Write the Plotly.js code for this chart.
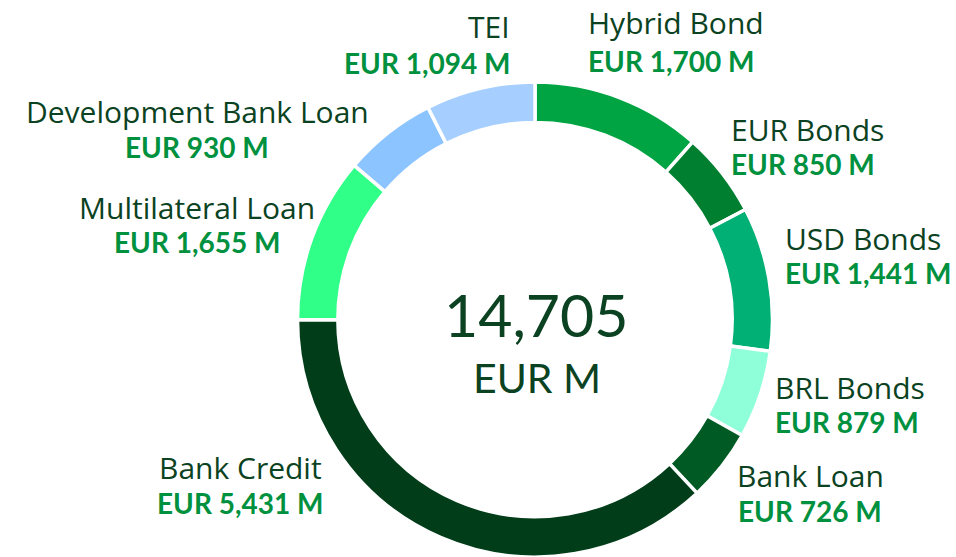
<!DOCTYPE html>
<html>
<head>
<meta charset="utf-8">
<script src="https://cdn.plot.ly/plotly-3.0.1.min.js"></script>
<style>html,body{margin:0;padding:0;background:#fff;}#chart{width:956px;height:557px;}</style>
</head>
<body>
<div id="chart"></div>
<script>
// ---- data ----
const categories = ["Hybrid Bond", "EUR Bonds", "USD Bonds", "BRL Bonds", "Bank Loan", "Bank Credit", "Multilateral Loan", "Development Bank Loan", "TEI"];
const values = [1700, 850, 1441, 879, 726, 5431, 1655, 930, 1094];
const valueLabels = ["EUR 1,700 M", "EUR 850 M", "EUR 1,441 M", "EUR 879 M", "EUR 726 M", "EUR 5,431 M", "EUR 1,655 M", "EUR 930 M", "EUR 1,094 M"];
const centerValue = "14,705";
const centerUnit = "EUR M";

// ---- styles / layout ----
const colors = ["#00a443", "#007f30", "#00b074", "#8effd8", "#005a24", "#023d1a", "#30ff88", "#8cc4ff", "#a6cfff"];
// label block positions in pixels: [x, yName, yValue, anchor]
const labelPos = [
  [586, 23, 61, "left"],
  [729, 129, 164, "left"],
  [783, 238, 273, "left"],
  [773, 387, 422, "left"],
  [810, 475, 511, "center"],
  [240, 467, 503, "center"],
  [197, 207, 242, "center"],
  [197, 111, 147, "center"],
  [512, 26, 63, "right"]
];
const W = 956, H = 557;
const nameColor = "#0b4222", valueColor = "#00913f";
const nameFont = "'Open Sans', Lato, sans-serif";
const valueFont = "Lato, 'Open Sans', sans-serif";

const annotations = [];
categories.forEach((c, i) => {
  const p = labelPos[i];
  annotations.push({xref: "paper", yref: "paper", x: p[0] / W, y: 1 - p[1] / H, xanchor: p[3], yanchor: "middle",
    text: c, showarrow: false, font: {family: nameFont, size: 30, color: nameColor}});
  annotations.push({xref: "paper", yref: "paper", x: p[0] / W, y: 1 - p[2] / H, xanchor: p[3], yanchor: "middle",
    text: "<b>" + valueLabels[i] + "</b>", showarrow: false, font: {family: valueFont, size: 28, color: valueColor}});
});
annotations.push({xref: "paper", yref: "paper", x: 536 / W, y: 1 - 314 / H, xanchor: "center", yanchor: "middle",
  text: centerValue, showarrow: false, font: {family: valueFont, size: 59, color: nameColor}});
annotations.push({xref: "paper", yref: "paper", x: 537 / W, y: 1 - 377 / H, xanchor: "center", yanchor: "middle",
  text: centerUnit, showarrow: false, font: {family: valueFont, size: 41, color: nameColor}});

const trace = {
  type: "pie",
  labels: categories,
  values: values,
  hole: 0.83,
  sort: false,
  direction: "clockwise",
  rotation: 0,
  textinfo: "none",
  hoverinfo: "label+value",
  marker: {colors: colors, line: {color: "#ffffff", width: 3.5}},
  domain: {x: [297 / W, 773 / W], y: [0, 475 / H]},
  showlegend: false
};

Plotly.newPlot("chart", [trace], {
  width: W, height: H,
  margin: {l: 0, r: 0, t: 0, b: 0},
  paper_bgcolor: "#ffffff",
  showlegend: false,
  annotations: annotations
}, {displayModeBar: false, staticPlot: true});
</script>
</body>
</html>
